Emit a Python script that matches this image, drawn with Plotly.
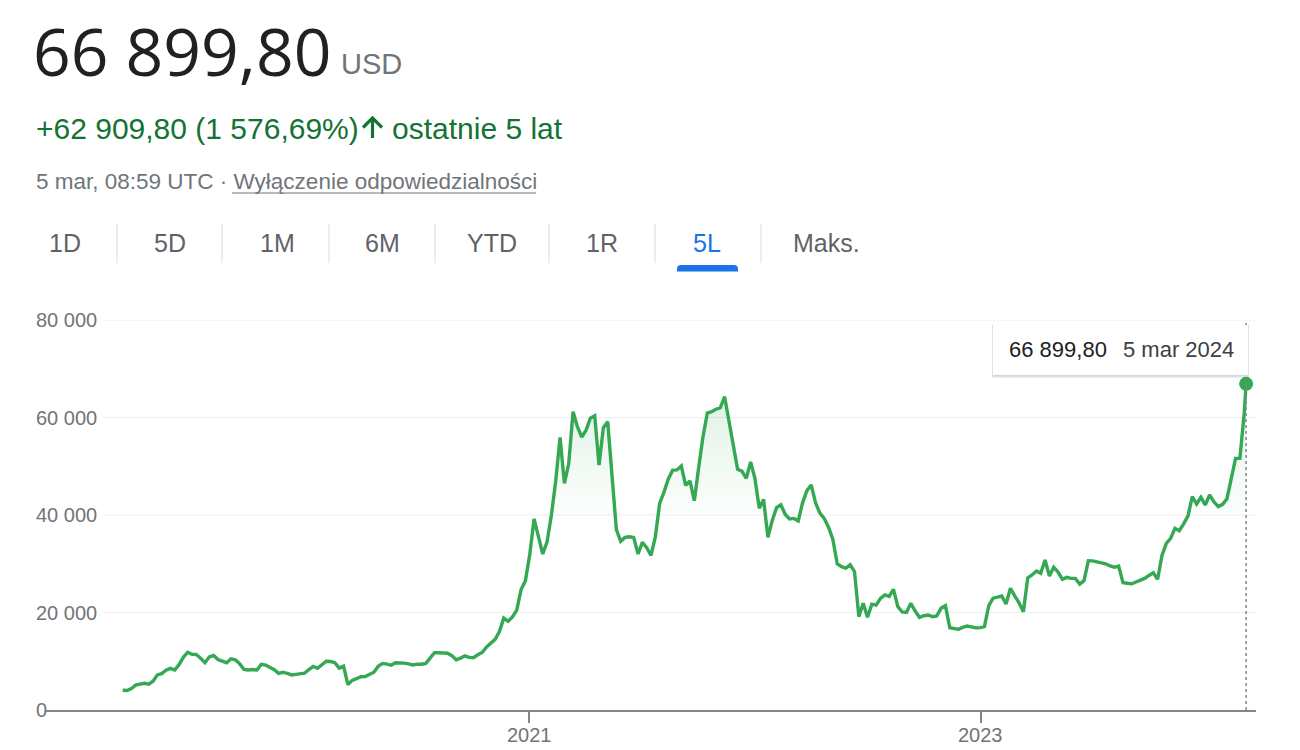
import pandas as pd
import plotly.graph_objects as go

# ---------------- data ----------------
start_date = "2019-03-16"          # first weekly close shown on the chart
weekly_prices = [
    4040, 4000, 4400, 5110, 5300, 5470, 5300, 5900, 7200, 7450,
    8150, 8530, 8200, 9300, 10800, 11850, 11430, 11370, 10600, 9700,
    10900, 11200, 10350, 9980, 9700, 10500, 10300, 9500, 8320, 8220,
    8300, 8200, 9370, 9220, 8760, 8260, 7530, 7730, 7520, 7190,
    7310, 7500, 7550, 8300, 8950, 8550, 9370, 9990, 9950, 9700,
    8600, 9000, 5200, 6080, 6420, 6830, 6880, 7260, 7750, 8950,
    9550, 9400, 9170, 9700, 9720, 9620, 9450, 9230, 9400, 9380,
    9570, 10700, 11750, 11750, 11740, 11640, 11150, 10300, 10630, 11120,
    10800, 10720, 11330, 11800, 12900, 13600, 14500, 16100, 18850, 18200,
    19080, 20500, 24700, 26500, 31900, 39200, 35700, 32000, 34500, 40000,
    47000, 55930, 46500, 50500, 61180, 58100, 56000, 57400, 59850, 60360,
    50250, 57900, 59130, 47000, 37000, 34600, 35400, 35540, 35400, 32000,
    34400, 33300, 31700, 35500, 42400, 44700, 47400, 49200, 49250, 50040,
    46100, 47000, 42930, 49700, 56000, 60900, 61200, 61700, 62000, 64260,
    59000, 54000, 49370, 49000, 47500, 50900, 47500, 41400, 43200, 35420,
    38900, 41500, 42100, 40100, 39200, 39300, 38800, 42500, 45000, 46150,
    42500, 40400, 39300, 37500, 35000, 30000, 29400, 29100, 29800, 28370,
    19140, 21880, 19010, 21700, 21500, 22900, 23600, 23300, 24760, 21200,
    20100, 20000, 21880, 20300, 19010, 19340, 19480, 19140, 19300, 20900,
    21390, 16880, 16760, 16550, 16950, 17230, 17050, 16850, 16900, 17100,
    21400, 22950, 23150, 23380, 21740, 24960, 23400, 22000, 20160, 27100,
    27700, 28500, 28040, 30770, 27480, 29270, 28300, 26810, 27200, 27010,
    27000, 25840, 26520, 30620, 30600, 30420, 30290, 30000, 29550, 29300,
    29530, 26110, 26000, 25880, 26250, 26650, 27000, 27600, 28160, 26810,
    31700, 34190, 35200, 37270, 36780, 38200, 39790, 43750, 42250, 43620,
    42050, 44100, 42700, 41700, 42190, 43300, 47850, 51620, 51620, 61000,
]
last_date = "2024-03-05"
last_price = 66899.80

dates = list(pd.date_range(start_date, periods=len(weekly_prices), freq="7D")) + [pd.Timestamp(last_date)]
prices = weekly_prices + [last_price]

y_ticks = [0, 20000, 40000, 60000, 80000]
y_tick_labels = ["0", "20 000", "40 000", "60 000", "80 000"]
x_ticks = ["2021-01-01", "2023-01-01"]
x_tick_labels = ["2021", "2023"]
x_range = ["2018-11-12", "2024-03-21"]

tabs = ["1D", "5D", "1M", "6M", "YTD", "1R", "5L", "Maks."]
active_tab = "5L"

headline_price = "66 899,80"
currency = "USD"
change_text = "+62 909,80 (1 576,69%)"
period_text = "ostatnie 5 lat"
timestamp_text = "5 mar, 08:59 UTC · "
disclaimer_text = "Wyłączenie odpowiedzialności"
tooltip_price = "66 899,80"
tooltip_date = "5 mar 2024"

# ---------------- styling / layout ----------------
W, H = 1300, 750
PL, PR, PT, PB = 46, 1256, 320, 710     # plot area in page pixels

GREEN = "#34a853"
DARK_GREEN = "#137333"
GREY = "#70757a"
TAB_GREY = "#5f6368"
BLUE = "#1a73e8"
TEXT = "#202124"
SANS = "Arial, 'Liberation Sans', sans-serif"
HEAD = "'Open Sans', sans-serif"


def px(x):
    return (x - PL) / (PR - PL)


def py(y):
    return (PB - y) / (PB - PT)


fig = go.Figure()

fig.add_trace(go.Scatter(
    x=dates, y=prices, mode="lines",
    line=dict(color=GREEN, width=3.4),
    fill="tozeroy",
    fillgradient=dict(type="vertical",
                      colorscale=[[0, "rgba(52,168,83,0)"], [1, "rgba(52,168,83,0.16)"]],
                      start=38000, stop=66000),
    hoverinfo="skip", showlegend=False,
))
fig.add_trace(go.Scatter(
    x=[dates[-1]], y=[prices[-1]], mode="markers",
    marker=dict(color=GREEN, size=14),
    hoverinfo="skip", showlegend=False, cliponaxis=False,
))

shapes = []
annotations = []

# gridlines (start after the labels)
for v in y_ticks[1:]:
    shapes.append(dict(type="line", xref="paper", yref="y", x0=px(103), x1=1, y0=v, y1=v,
                       line=dict(color="#eeeeee", width=1), layer="below"))
# y labels, left aligned
for v, lab in zip(y_ticks, y_tick_labels):
    annotations.append(dict(x=px(34), xref="paper", y=v, yref="y", text=lab, showarrow=False,
                            xanchor="left", yanchor="middle", font=dict(family=SANS, size=20, color=GREY)))
# x labels under the ticks
for d, lab in zip(x_ticks, x_tick_labels):
    annotations.append(dict(x=d, xref="x", y=py(735), yref="paper", text=lab, showarrow=False,
                            xanchor="center", yanchor="middle", font=dict(family=SANS, size=20, color=GREY)))

# vertical dashed crosshair at the last point
shapes.append(dict(type="line", xref="x", yref="paper", x0=dates[-1], x1=dates[-1], y0=0, y1=py(322),
                   line=dict(color="#80868b", width=1.5, dash="3px,3px"), layer="above"))

# tooltip box with soft shadow
shapes.append(dict(type="rect", xref="paper", yref="paper", x0=px(992), x1=px(1249), y0=py(378), y1=py(325),
                   fillcolor="rgba(60,64,67,0.10)", line=dict(width=0), layer="above"))
shapes.append(dict(type="rect", xref="paper", yref="paper", x0=px(992.5), x1=px(1248.5), y0=py(376.5), y1=py(325),
                   fillcolor="rgba(60,64,67,0.12)", line=dict(width=0), layer="above"))
shapes.append(dict(type="rect", xref="paper", yref="paper", x0=px(993), x1=px(1248), y0=py(375), y1=py(325),
                   fillcolor="white", line=dict(width=0), layer="above"))
annotations.append(dict(x=px(1007), y=py(349), xref="paper", yref="paper", text=tooltip_price, showarrow=False,
                        xanchor="left", yanchor="middle", font=dict(family=SANS, size=22, color=TEXT)))
annotations.append(dict(x=px(1121), y=py(349), xref="paper", yref="paper", text=tooltip_date, showarrow=False,
                        xanchor="left", yanchor="middle", font=dict(family=SANS, size=22, color="#3c4043")))

# header
annotations.append(dict(x=px(31), y=py(50), xref="paper", yref="paper", text=headline_price, showarrow=False,
                        xanchor="left", yanchor="middle", height=78, valign="middle",
                        font=dict(family=HEAD, size=66, color=TEXT)))
annotations.append(dict(x=px(339), y=py(64), xref="paper", yref="paper", text=currency, showarrow=False,
                        xanchor="left", yanchor="middle", font=dict(family=SANS, size=29, color=GREY)))
annotations.append(dict(x=px(34), y=py(128), xref="paper", yref="paper", text=change_text, showarrow=False,
                        xanchor="left", yanchor="middle", font=dict(family=SANS, size=30, color=DARK_GREEN)))
# upward arrow icon
arrow_path = (f"M {px(372.5)},{py(138)} L {px(372.5)},{py(119)} "
              f"M {px(363)},{py(127.5)} L {px(372.5)},{py(118)} L {px(382)},{py(127.5)}")
shapes.append(dict(type="path", xref="paper", yref="paper", path=arrow_path,
                   line=dict(color=DARK_GREEN, width=3.2)))
annotations.append(dict(x=px(390), y=py(128), xref="paper", yref="paper", text=period_text, showarrow=False,
                        xanchor="left", yanchor="middle", font=dict(family=SANS, size=30, color=DARK_GREEN)))
annotations.append(dict(x=px(34), y=py(182), xref="paper", yref="paper",
                        text=timestamp_text + disclaimer_text, showarrow=False,
                        xanchor="left", yanchor="middle", font=dict(family=SANS, size=22.5, color=GREY)))
shapes.append(dict(type="line", xref="paper", yref="paper", x0=px(232), x1=px(536), y0=py(193), y1=py(193),
                   line=dict(color=GREY, width=1)))

# range tabs
tab_centers = [65, 170, 277, 382, 492, 602, 707, 826]
sep_x = [117, 222, 329, 435, 549, 655, 761]
for lab, cx in zip(tabs, tab_centers):
    annotations.append(dict(x=px(cx), y=py(243), xref="paper", yref="paper", text=lab, showarrow=False,
                            xanchor="center", yanchor="middle",
                            font=dict(family=SANS, size=25, color=BLUE if lab == active_tab else TAB_GREY)))
for sx in sep_x:
    shapes.append(dict(type="line", xref="paper", yref="paper", x0=px(sx), x1=px(sx), y0=py(224), y1=py(263),
                       line=dict(color="#dadce0", width=1)))
# active tab indicator with rounded top corners
bx0, bx1, byt, byb, r = 677, 738, 265, 271.5, 4
path = (f"M {px(bx0)},{py(byb)} L {px(bx0)},{py(byt + r)} Q {px(bx0)},{py(byt)} {px(bx0 + r)},{py(byt)} "
        f"L {px(bx1 - r)},{py(byt)} Q {px(bx1)},{py(byt)} {px(bx1)},{py(byt + r)} L {px(bx1)},{py(byb)} Z")
shapes.append(dict(type="path", xref="paper", yref="paper", path=path, fillcolor=BLUE, line=dict(width=0)))

fig.update_layout(
    width=W, height=H,
    margin=dict(l=PL, r=W - PR, t=PT, b=H - PB, pad=0, autoexpand=False),
    paper_bgcolor="white", plot_bgcolor="white",
    showlegend=False,
    shapes=shapes, annotations=annotations,
    xaxis=dict(type="date", range=x_range, tickvals=x_ticks, showticklabels=False, automargin=False,
               showgrid=False, zeroline=False, showline=True, linecolor="#80868b", linewidth=2,
               ticks="outside", ticklen=11, tickwidth=2, tickcolor="#80868b", fixedrange=True),
    yaxis=dict(range=[0, 80000], showgrid=False, zeroline=False, showticklabels=False, automargin=False,
               showline=False, ticks="", fixedrange=True),
    hovermode=False,
)

# remove the default 8px page margin so the 1300x750 figure fills the window exactly
fig.write_html("out.html", config={"displayModeBar": False},
               post_script="document.body.style.margin='0';document.body.style.overflow='hidden';")
